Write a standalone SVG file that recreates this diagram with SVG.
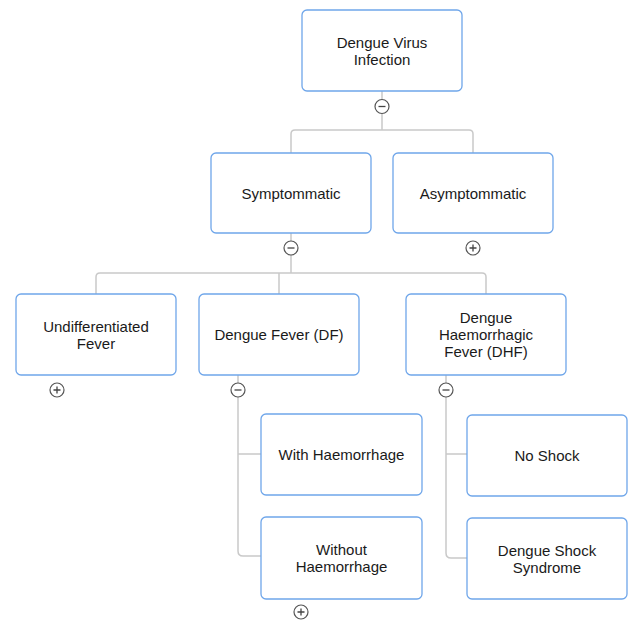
<svg xmlns="http://www.w3.org/2000/svg" width="628" height="620" viewBox="0 0 628 620">
<style>
.node rect{fill:#ffffff;stroke:#6fa6ea;stroke-width:1.3}
.node text{font-family:"Liberation Sans",Arial,sans-serif;font-size:15px;fill:#1a1a1a;text-anchor:middle}
.conn path{fill:none;stroke:#c9c9c9;stroke-width:1.5}
.tog circle{fill:#ffffff;stroke:#555555;stroke-width:1.2}
.tog path{fill:none;stroke:#444444;stroke-width:1.3}
</style>
<rect width="628" height="620" fill="#ffffff"/>
<g id="connectors" class="conn">
<path d="M382,91 V99.5 M382,113.5 V130"/>
<path d="M291,153 V134 Q291,130 295,130 H469 Q473,130 473,134 V153"/>
<path d="M291,233 V241 M291,255 V273"/>
<path d="M96,294 V277 Q96,273 100,273 H482 Q486,273 486,277 V294 M279,273 V294"/>
<path d="M238,375 V383 M238,397 V551 Q238,556 243,556 H261 M238,454 H261"/>
<path d="M446,375 V383 M446,397 V553 Q446,558 451,558 H467 M446,454 H467"/>
</g>
<g id="n-root" class="node"><rect x="302" y="10" width="160" height="81" rx="5"/><text x="382" y="47.5">Dengue Virus</text><text x="382" y="65">Infection</text></g>
<g id="n-symp" class="node"><rect x="211" y="153" width="160" height="80" rx="5"/><text x="291" y="198.5">Symptommatic</text></g>
<g id="n-asymp" class="node"><rect x="393" y="153" width="160" height="80" rx="5"/><text x="473" y="198.5">Asymptommatic</text></g>
<g id="n-undiff" class="node"><rect x="16" y="294" width="160" height="81" rx="5"/><text x="96" y="331.5">Undifferentiated</text><text x="96" y="349">Fever</text></g>
<g id="n-df" class="node"><rect x="199" y="294" width="160" height="81" rx="5"/><text x="279" y="340">Dengue Fever (DF)</text></g>
<g id="n-dhf" class="node"><rect x="406" y="294" width="160" height="81" rx="5"/><text x="486" y="323">Dengue</text><text x="486" y="340">Haemorrhagic</text><text x="486" y="357">Fever (DHF)</text></g>
<g id="n-withh" class="node"><rect x="261" y="414" width="161" height="81" rx="5"/><text x="341.5" y="460">With Haemorrhage</text></g>
<g id="n-withouth" class="node"><rect x="261" y="517" width="161" height="82" rx="5"/><text x="341.5" y="555">Without</text><text x="341.5" y="572">Haemorrhage</text></g>
<g id="n-noshock" class="node"><rect x="467" y="415" width="160" height="81" rx="5"/><text x="547" y="460.5">No Shock</text></g>
<g id="n-dss" class="node"><rect x="467" y="518" width="160" height="81" rx="5"/><text x="547" y="556">Dengue Shock</text><text x="547" y="573">Syndrome</text></g>
<g id="toggles" class="tog">
<g><circle cx="382" cy="106.5" r="7"/><path d="M378.5,106.5 H385.5"/></g>
<g><circle cx="291" cy="248" r="7"/><path d="M287.5,248 H294.5"/></g>
<g><circle cx="473" cy="248" r="7"/><path d="M469.5,248 H476.5 M473,244.5 V251.5"/></g>
<g><circle cx="57" cy="390" r="7"/><path d="M53.5,390 H60.5 M57,386.5 V393.5"/></g>
<g><circle cx="238" cy="390" r="7"/><path d="M234.5,390 H241.5"/></g>
<g><circle cx="446" cy="390" r="7"/><path d="M442.5,390 H449.5"/></g>
<g><circle cx="301" cy="612" r="7"/><path d="M297.5,612 H304.5 M301,608.5 V615.5"/></g>
</g>
</svg>
